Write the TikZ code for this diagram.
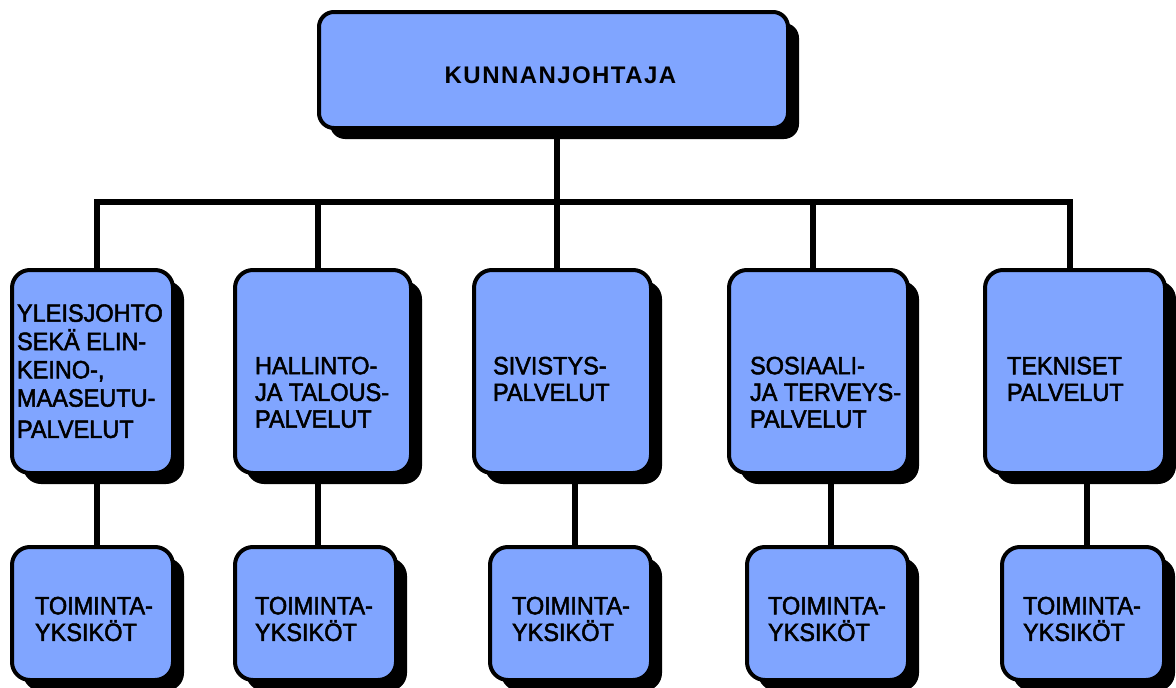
\documentclass[tikz,border=0pt]{standalone}
\usepackage{fontspec}
\setmainfont{Liberation Sans}
\newfontfamily\heavy{Liberation Sans}[FakeBold=2,FakeStretch=0.94]
\usetikzlibrary{shadows,backgrounds}
\definecolor{boxblue}{RGB}{128,165,255}
\begin{document}
\begin{tikzpicture}[x=1pt,y=-1pt,
  orgbox/.style={draw=black, line width=4pt, fill=boxblue, rounded corners=18pt,
    inner sep=0pt, outer sep=0pt,
    drop shadow={shadow xshift=11pt, shadow yshift=-11pt, fill=black, opacity=1}},
  lbl/.style={inner sep=0pt, outer sep=0pt, anchor=west, align=left,
    font=\heavy\fontsize{25}{26.7}\selectfont},
  conn/.style={line width=6.5pt, draw=black, line join=miter}]
\useasboundingbox (0,0) rectangle (1176,688);
% top
\node[orgbox, rounded corners=15pt, minimum width=469pt, minimum height=116pt] (top) at (553.5,70) {};
\node[inner sep=0pt, font=\fontsize{24}{26}\selectfont\bfseries\addfontfeature{LetterSpace=6}] (ttop) at (560.5,75) {KUNNANJOHTAJA};
% middle row
\node[orgbox, minimum width=161pt, minimum height=203pt] (m1) at (92.5,371.5) {};
\node[orgbox, minimum width=176pt, minimum height=203pt] (m2) at (323,371.5) {};
\node[orgbox, minimum width=177pt, minimum height=203pt] (m3) at (562.5,371.5) {};
\node[orgbox, minimum width=179pt, minimum height=203pt] (m4) at (818.5,371.5) {};
\node[orgbox, minimum width=180pt, minimum height=203pt] (m5) at (1075,371.5) {};
\node[lbl, font=\heavy\fontsize{25}{28.3}\selectfont] (tm1) at (17,371.2) {YLEISJOHTO\\SEKÄ ELIN-\\KEINO-,\\MAASEUTU-\\[3pt]PALVELUT};
\node[lbl] (tm2) at (255,392.3) {HALLINTO-\\JA TALOUS-\\PALVELUT};
\node[lbl] (tm3) at (493,379) {SIVISTYS-\\PALVELUT};
\node[lbl] (tm4) at (750,392.3) {SOSIAALI-\\JA TERVEYS-\\PALVELUT};
\node[lbl] (tm5) at (1007,379) {TEKNISET\\PALVELUT};
% bottom row
\node[orgbox, minimum width=161pt, minimum height=133pt] (b1) at (92.5,613.5) {};
\node[orgbox, minimum width=161pt, minimum height=133pt] (b2) at (315.5,613.5) {};
\node[orgbox, minimum width=161pt, minimum height=133pt] (b3) at (570.5,613.5) {};
\node[orgbox, minimum width=161pt, minimum height=133pt] (b4) at (827.5,613.5) {};
\node[orgbox, minimum width=162pt, minimum height=133pt] (b5) at (1083,613.5) {};
\node[lbl] (tb1) at (35,619) {TOIMINTA-\\YKSIKÖT};
\node[lbl] (tb2) at (255,619) {TOIMINTA-\\YKSIKÖT};
\node[lbl] (tb3) at (512,619) {TOIMINTA-\\YKSIKÖT};
\node[lbl] (tb4) at (768,619) {TOIMINTA-\\YKSIKÖT};
\node[lbl] (tb5) at (1023,619) {TOIMINTA-\\YKSIKÖT};
% connector coordinates
\coordinate (bus) at (557,202);
\coordinate (d1) at (97,202);
\coordinate (d2) at (318,202);
\coordinate (d3) at (557,202);
\coordinate (d4) at (813,202);
\coordinate (d5) at (1070,202);
\coordinate (l1) at (97,0);
\coordinate (l2) at (318,0);
\coordinate (l3) at (575,0);
\coordinate (l4) at (831,0);
\coordinate (l5) at (1087,0);
\begin{pgfonlayer}{background}
\draw[conn] (top.south -| bus) -- (bus);
\draw[conn] (m1.north -| d1) -- (d1) -- (d5) -- (m5.north -| d5);
\draw[conn] (d2) -- (m2.north -| d2);
\draw[conn] (d3) -- (m3.north -| d3);
\draw[conn] (d4) -- (m4.north -| d4);
\draw[conn] (m1.south -| l1) -- (b1.north -| l1);
\draw[conn] (m2.south -| l2) -- (b2.north -| l2);
\draw[conn] (m3.south -| l3) -- (b3.north -| l3);
\draw[conn] (m4.south -| l4) -- (b4.north -| l4);
\draw[conn] (m5.south -| l5) -- (b5.north -| l5);
\end{pgfonlayer}
\end{tikzpicture}
\end{document}
